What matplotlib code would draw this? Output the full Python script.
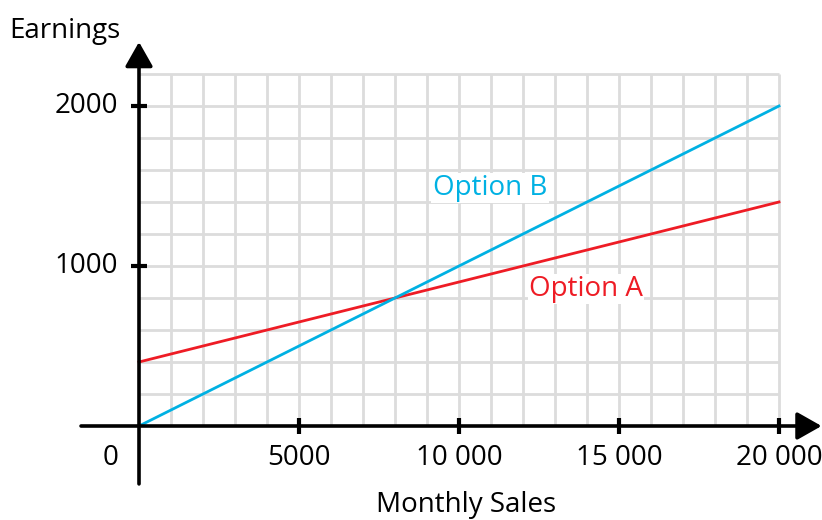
import matplotlib
matplotlib.use("Agg")
import matplotlib.pyplot as plt
import numpy as np

plt.rcParams['font.family'] = ['Open Sans', 'DejaVu Sans']

# Monthly sales (x) and earnings for each pay option
sales = [0, 20000]
option_a = [400, 1400]
option_b = [0, 2000]

x_ticks = [5000, 10000, 15000, 20000]
x_tick_labels = ["5000", "10 000", "15 000", "20 000"]
y_ticks = [1000, 2000]
y_tick_labels = ["1000", "2000"]

grid_x_max, grid_y_max = 20000, 2200
grid_x_step, grid_y_step = 1000, 200

BLUE = "#00B1E3"
RED = "#EE1C25"
GRID = "#DCDCDC"

fig = plt.figure(figsize=(8.22, 5.2), dpi=100)
ax = fig.add_axes([0, 0, 1, 1])
ax.set_xlim(-4344, 21344)
ax.set_ylim(-587.5, 2662.5)
ax.axis("off")

# Background grid
for gx in np.arange(grid_x_step, grid_x_max + 1, grid_x_step):
    ax.plot([gx, gx], [0, grid_y_max], color=GRID, lw=2, zorder=1, solid_capstyle="butt")
for gy in np.arange(grid_y_step, grid_y_max + 1, grid_y_step):
    ax.plot([0, grid_x_max], [gy, gy], color=GRID, lw=2, zorder=1, solid_capstyle="butt")

# Axes with arrows
arrow = dict(arrowstyle="-|>,head_length=1.5,head_width=0.85",
             color="black", lw=2.6, shrinkA=0, shrinkB=0)
ax.annotate("", xy=(21330, 0), xytext=(-1812, 0), arrowprops=arrow,
            annotation_clip=False, zorder=4)
ax.annotate("", xy=(0, 2400), xytext=(0, -362), arrowprops=arrow,
            annotation_clip=False, zorder=4)

# Tick marks
for t in x_ticks:
    ax.plot([t, t], [-50, 50], color="black", lw=3, zorder=4, solid_capstyle="butt")
for t in y_ticks:
    ax.plot([-250, 250], [t, t], color="black", lw=3, zorder=4, solid_capstyle="butt")

fs = 20
for t, lab in zip(x_ticks, x_tick_labels):
    ax.text(t, -200, lab, ha="center", va="center", fontsize=fs)
ax.text(-875, -200, "0", ha="center", va="center", fontsize=fs)
for t, lab in zip(y_ticks, y_tick_labels):
    ax.text(-650, t, lab, ha="right", va="center", fontsize=fs)

ax.text(10220, -494, "Monthly Sales", ha="center", va="center", fontsize=fs)
ax.text(-4050, 2470, "Earnings", ha="left", va="center", fontsize=fs)

# Earnings lines
ax.plot(sales, option_a, color=RED, lw=2, zorder=3)
ax.plot(sales, option_b, color=BLUE, lw=2, zorder=3)

ax.text(10970, 1487, "Option B", color=BLUE, ha="center", va="center", fontsize=fs,
        bbox=dict(facecolor="white", edgecolor="none", pad=1), zorder=5)
ax.text(13970, 856, "Option A", color=RED, ha="center", va="center", fontsize=fs,
        bbox=dict(facecolor="white", edgecolor="none", pad=1), zorder=5)

fig.savefig("out.png", dpi=100)
